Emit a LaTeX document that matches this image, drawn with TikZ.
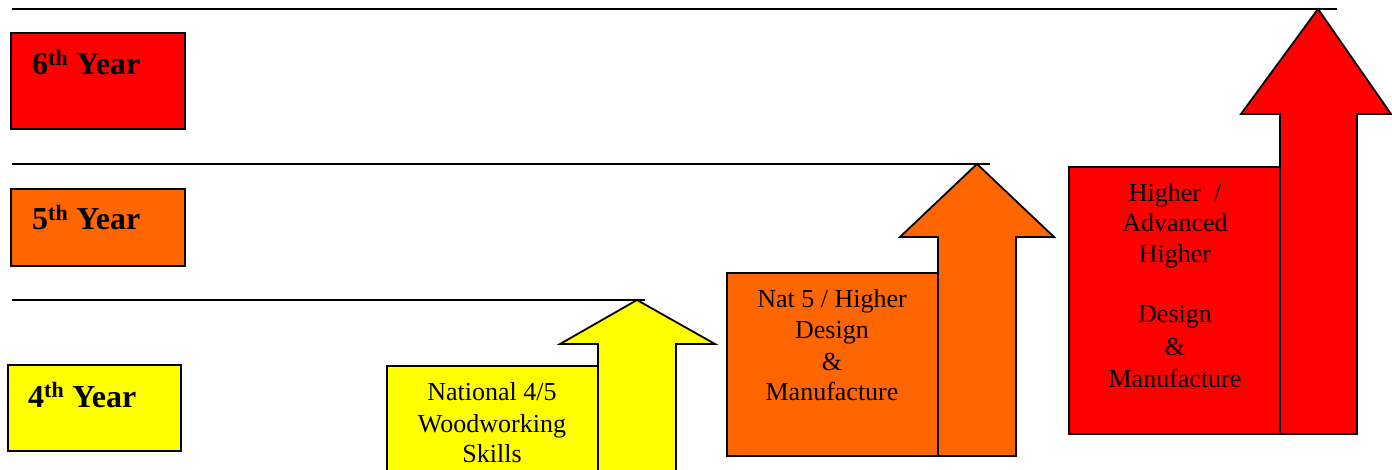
\documentclass[tikz,border=0pt]{standalone}
\usepackage{fontspec}
\setmainfont{Liberation Serif}
\definecolor{yel}{RGB}{255,255,0}
\definecolor{org}{RGB}{255,102,0}
\definecolor{rd}{RGB}{255,0,0}
\begin{document}
\begin{tikzpicture}[x=1pt,y=-1pt,
  yearbox/.style={draw=black, line width=2pt, inner sep=0pt},
  lbl/.style={font=\fontsize{32}{36}\selectfont\bfseries, anchor=base west, inner sep=0pt},
  txt/.style={font=\fontsize{26}{31}\selectfont, anchor=base, inner sep=0pt},
  level/.style={line width=1.6pt},
  shp/.style={draw=black, line width=1.8pt, line join=miter}]
\useasboundingbox (0,0) rectangle (1392,470);
\clip (0,0) rectangle (1392,470);
% level lines
\coordinate (l1a) at (12,9);   \coordinate (l1b) at (1337,9);
\coordinate (l2a) at (12,164); \coordinate (l2b) at (990,164);
\coordinate (l3a) at (12,300); \coordinate (l3b) at (645,300);
\draw[level] (l1a) -- (l1b);
\draw[level] (l2a) -- (l2b);
\draw[level] (l3a) -- (l3b);
% year boxes
\node[yearbox, fill=rd, minimum width=174pt, minimum height=96pt] (b6) at (98,81) {};
\node[yearbox, fill=org, minimum width=174pt, minimum height=77pt] (b5) at (98,227.5) {};
\node[yearbox, fill=yel, minimum width=173pt, minimum height=86pt] (b4) at (94.5,408) {};
\node[lbl] (t6) at (32,75) {6\textsuperscript{\fontsize{22}{24}\selectfont th} Year};
\node[lbl] (t5) at (32,230) {5\textsuperscript{\fontsize{22}{24}\selectfont th} Year};
\node[lbl] (t4) at (28,407) {4\textsuperscript{\fontsize{22}{24}\selectfont th} Year};
% yellow step
\path[shp, fill=yel] (387,366) rectangle (598,480);
\path[shp, fill=yel] (598,480) -- (598,344) -- (560,344) -- (637,300) -- (715,344) -- (676,344) -- (676,480) -- cycle;
\node[txt] (y1) at (492,400) {National 4/5};
\node[txt] (y2) at (492,432) {Woodworking};
\node[txt] (y3) at (492,462) {Skills};
% orange step
\path[shp, fill=org] (727,273) rectangle (938,456);
\path[shp, fill=org] (938,456) -- (938,237) -- (900,237) -- (977,164) -- (1054,237) -- (1016,237) -- (1016,456) -- cycle;
\node[txt] (o1) at (832,308) {Nat 5 / Higher};
\node[txt] (o2) at (832,338) {Design};
\node[txt] (o3) at (832,370) {\&};
\node[txt] (o4) at (832,400) {Manufacture};
% red step
\path[shp, fill=rd] (1069,167) rectangle (1280,434);
\path[shp, fill=rd] (1280,434) -- (1280,114) -- (1241,114) -- (1318,9) -- (1391,114) -- (1357,114) -- (1357,434) -- cycle;
\node[txt] (r1) at (1175,202) {Higher\ \ /};
\node[txt] (r2) at (1175,232) {Advanced};
\node[txt] (r3) at (1175,263) {Higher};
\node[txt] (r4) at (1175,323) {Design};
\node[txt] (r5) at (1175,355) {\&};
\node[txt] (r6) at (1175,387) {Manufacture};
\end{tikzpicture}
\end{document}
